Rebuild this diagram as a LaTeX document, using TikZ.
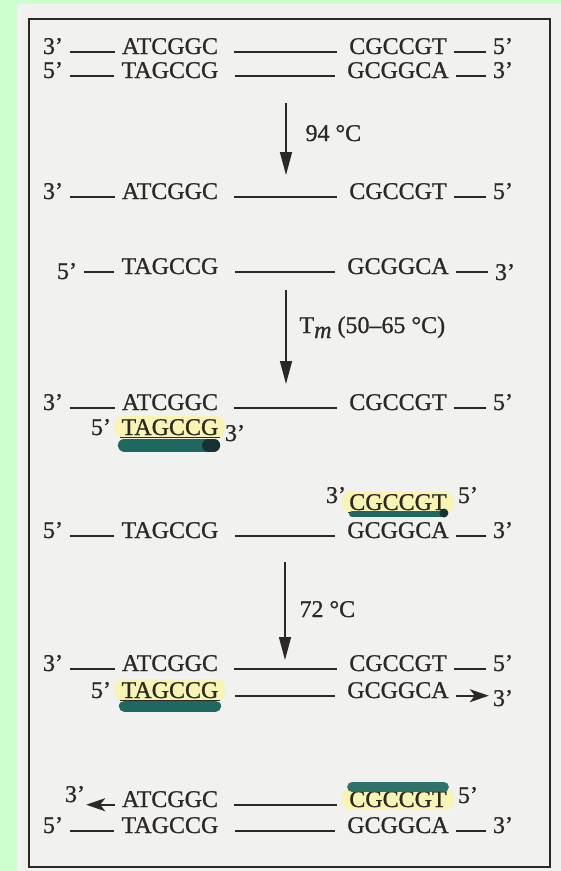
\documentclass[tikz,border=0pt]{standalone}
\usepackage{fontspec}
\setmainfont[FakeBold=0.9]{Liberation Serif}
\usetikzlibrary{arrows.meta,backgrounds}

\definecolor{mint}{RGB}{204,255,204}
\definecolor{paper}{RGB}{241,241,239}
\definecolor{inkgrey}{RGB}{44,40,38}
\definecolor{marker}{RGB}{30,104,96}
\definecolor{markerdark}{RGB}{22,50,50}
\definecolor{highlight}{RGB}{247,244,180}

\tikzset{
  letters/.style={font=\fontsize{24}{28}\selectfont, text=inkgrey, inner ysep=0pt, anchor=base},
  seq/.style={letters, inner xsep=7pt},
  tag/.style={letters, inner xsep=7pt},
  primer/.style={seq, fill=highlight, rounded corners=9pt, inner ysep=3pt},
  strand/.style={inkgrey, line width=1.6pt},
  gap/.style={strand, shorten <=9pt, shorten >=5pt},
  stepline/.style={inkgrey, line width=1.5pt, -{Triangle[length=23pt,width=12pt]}},
  growth/.style={inkgrey, line width=1.8pt, -{Stealth[length=19pt,width=13pt,inset=5pt]}},
  pen/.style={marker, line width=#1, line cap=round},
}

\begin{document}
\begin{tikzpicture}[x=1pt, y=-1pt]
    \useasboundingbox (0,0) rectangle (561,871);

    % Draw the paper and the frame
    \begin{scope}[on background layer]
        \fill[mint] (0,0) rectangle (561,871);
        \fill[paper] (17,4) rectangle (561,871);
    \end{scope}
    \draw[inkgrey, line width=1.4pt] (29,19) rectangle (550,867);

    % Draw the double strand
    \node[tag] (t1a) at (53,54) {3'};
    \node[seq] (s1a) at (170,54) {ATCGGC};
    \node[seq] (s1b) at (398,54) {CGCCGT};
    \node[tag] (t1b) at (503,54) {5'};
    \node[tag] (t2a) at (53,78) {5'};
    \node[seq] (s2a) at (170,78) {TAGCCG};
    \node[seq] (s2b) at (398,78) {GCGGCA};
    \node[tag] (t2b) at (503,78) {3'};
    \draw[strand] (t1a.mid east) -- (s1a.mid west) (s1b.mid east) -- (t1b.mid west);
    \draw[gap] (s1a.mid east) -- (s1b.mid west);
    \draw[strand] (t2a.mid east) -- (s2a.mid west) (s2b.mid east) -- (t2b.mid west);
    \draw[gap] (s2a.mid east) -- (s2b.mid west);

    % Draw the denaturation step
    \coordinate (d1) at (286,103);
    \coordinate (d2) at (286,175);
    \draw[stepline] (d1) -- (d2);
    \node[letters, anchor=base west] (denat) at (302,141) {94 °C};

    % Draw the separated strands
    \node[tag] (t3a) at (53,199) {3'};
    \node[seq] (s3a) at (170,199) {ATCGGC};
    \node[seq] (s3b) at (398,199) {CGCCGT};
    \node[tag] (t3b) at (503,199) {5'};
    \node[tag] (t4a) at (67,279) {5'};
    \node[seq] (s4a) at (170,274) {TAGCCG};
    \node[seq] (s4b) at (398,274) {GCGGCA};
    \node[tag] (t4b) at (505,280) {3'};
    \draw[strand] (t3a.mid east) -- (s3a.mid west) (s3b.mid east) -- (t3b.mid west);
    \draw[gap] (s3a.mid east) -- (s3b.mid west);
    \draw[strand] (s4a.mid west -| t4a.east) -- (s4a.mid west) (s4b.mid east) -- (s4b.mid east -| t4b.west);
    \draw[gap] (s4a.mid east) -- (s4b.mid west);

    % Draw the annealing step
    \coordinate (n1) at (286,290);
    \coordinate (n2) at (286,384);
    \draw[stepline] (n1) -- (n2);
    \node[letters, anchor=base west] (anneal) at (296,333) {T\raisebox{-5pt}{\itshape m} (50–65 °C)};

    % Draw the primers on their strands
    \node[tag] (t5a) at (53,410) {3'};
    \node[seq] (s5a) at (170,410) {ATCGGC};
    \node[seq] (s5b) at (398,410) {CGCCGT};
    \node[tag] (t5b) at (503,410) {5'};
    \draw[strand] (t5a.mid east) -- (s5a.mid west) (s5b.mid east) -- (t5b.mid west);
    \draw[gap] (s5a.mid east) -- (s5b.mid west);
    \node[tag] (p1l) at (101,435) {5'};
    \node[primer] (p1) at (170,435) {TAGCCG};
    \node[tag] (p1r) at (235,441) {3'};
    \node[tag] (p2l) at (336,503) {3'};
    \node[primer] (p2) at (398,510) {CGCCGT};
    \node[tag] (p2r) at (468,503) {5'};
    \node[tag] (t6a) at (53,538) {5'};
    \node[seq] (s6a) at (170,538) {TAGCCG};
    \node[seq] (s6b) at (398,538) {GCGGCA};
    \node[tag] (t6b) at (503,538) {3'};
    \draw[strand] (t6a.mid east) -- (s6a.mid west) (s6b.mid east) -- (t6b.mid west);
    \draw[gap] (s6a.mid east) -- (s6b.mid west);

    % Draw the extension step
    \coordinate (e1) at (285,562);
    \coordinate (e2) at (285,660);
    \draw[stepline] (e1) -- (e2);
    \node[letters, anchor=base west] (extend) at (296,617) {72 °C};

    % Draw the new strands
    \node[tag] (t7a) at (53,671) {3'};
    \node[seq] (s7a) at (170,671) {ATCGGC};
    \node[seq] (s7b) at (398,671) {CGCCGT};
    \node[tag] (t7b) at (503,671) {5'};
    \draw[strand] (t7a.mid east) -- (s7a.mid west) (s7b.mid east) -- (t7b.mid west);
    \draw[gap] (s7a.mid east) -- (s7b.mid west);
    \node[tag] (p3l) at (101,698) {5'};
    \node[primer] (p3) at (170,698) {TAGCCG};
    \node[seq] (s8b) at (398,698) {GCGGCA};
    \node[tag] (t8b) at (503,706) {3'};
    \draw[gap] (p3.mid east) -- (s8b.mid west);
    \draw[growth] (s8b.mid east) -- ([xshift=3pt]s8b.mid east -| t8b.west);
    \node[tag] (t9a) at (75,802) {3'};
    \node[seq] (s9a) at (170,807) {ATCGGC};
    \node[primer] (p4) at (398,807) {CGCCGT};
    \node[tag] (p4r) at (468,803) {5'};
    \draw[gap] (s9a.mid east) -- (p4.mid west);
    \draw[growth] (s9a.mid west) -- ([xshift=-6pt]s9a.mid west -| t9a.east);
    \node[tag] (t10a) at (53,833) {5'};
    \node[seq] (s10a) at (170,833) {TAGCCG};
    \node[seq] (s10b) at (398,833) {GCGGCA};
    \node[tag] (t10b) at (503,833) {3'};
    \draw[strand] (t10a.mid east) -- (s10a.mid west) (s10b.mid east) -- (t10b.mid west);
    \draw[gap] (s10a.mid east) -- (s10b.mid west);

    % Draw the underlines and the marker strokes
    \draw[inkgrey, line width=0.8pt] ([xshift=6pt,yshift=-2pt]p1.base west) -- ([xshift=-6pt,yshift=-2pt]p1.base east);
    \draw[inkgrey, line width=0.8pt] ([xshift=6pt,yshift=-2pt]p2.base west) -- ([xshift=-6pt,yshift=-2pt]p2.base east);
    \draw[inkgrey, line width=0.8pt] ([xshift=6pt,yshift=-2pt]p3.base west) -- ([xshift=-6pt,yshift=-2pt]p3.base east);
    \draw[pen=13pt] ([xshift=10pt,yshift=-10pt]p1.base west) -- ([xshift=-12pt,yshift=-10pt]p1.base east);
    \draw[pen=13pt, markerdark] ([xshift=-17pt,yshift=-10pt]p1.base east) -- ([xshift=-12pt,yshift=-10pt]p1.base east);
    \draw[pen=6pt] ([xshift=10pt,yshift=-4pt]p2.base west) -- ([xshift=-10pt,yshift=-4pt]p2.base east);
    \fill[markerdark] ([xshift=-10pt,yshift=-3pt]p2.base east) circle (4.5pt);
    \draw[pen=11pt] ([xshift=10pt,yshift=-8pt]p3.base west) -- ([xshift=-10pt,yshift=-8pt]p3.base east);
    \draw[pen=10pt, opacity=0.92] ([xshift=10pt,yshift=20pt]p4.base west) -- ([xshift=-10pt,yshift=20pt]p4.base east);
\end{tikzpicture}
\end{document}
